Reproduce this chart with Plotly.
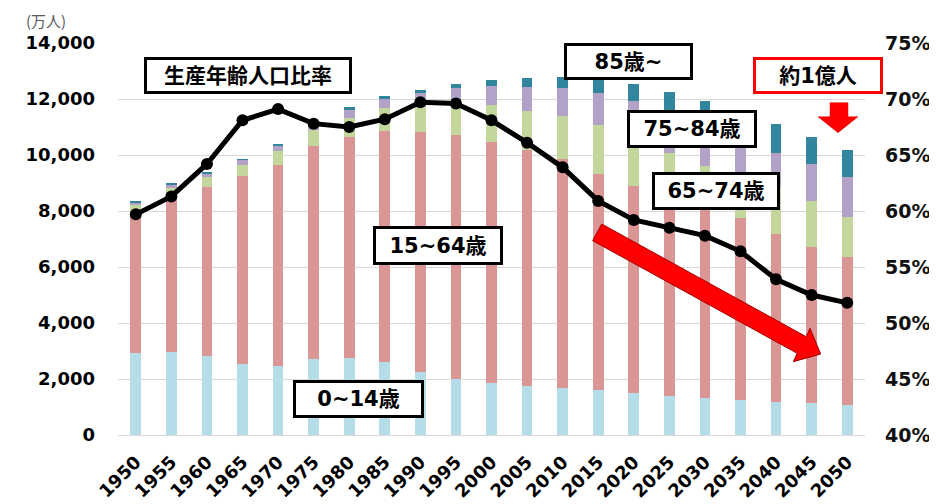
import plotly.graph_objects as go

# ---------------- data ----------------
years = ["1950", "1955", "1960", "1965", "1970", "1975", "1980", "1985", "1990", "1995",
         "2000", "2005", "2010", "2015", "2020", "2025", "2030", "2035", "2040", "2045", "2050"]
age_0_14 = [2943, 2980, 2807, 2553, 2482, 2722, 2751, 2603, 2249, 2001,
            1847, 1752, 1680, 1595, 1503, 1407, 1321, 1246, 1194, 1138, 1077]
age_15_64 = [4966, 5517, 6047, 6693, 7157, 7584, 7883, 8251, 8590, 8716,
             8622, 8409, 8173, 7728, 7406, 7170, 6875, 6494, 5978, 5584, 5275]
age_65_74 = [309, 340, 345, 400, 505, 585, 705, 810, 892, 1109,
             1301, 1420, 1530, 1755, 1747, 1497, 1428, 1522, 1681, 1643, 1424]
age_75_84 = [97, 125, 150, 180, 200, 255, 285, 345, 487, 564,
             679, 850, 1020, 1136, 1270, 1455, 1480, 1425, 1228, 1301, 1429]
age_85_plus = [10, 14, 22, 28, 38, 50, 75, 95, 120, 153,
               224, 330, 400, 497, 620, 725, 808, 835, 1011, 976, 988]
working_ratio = [59.7, 61.3, 64.2, 68.1, 69.1, 67.8, 67.5, 68.2, 69.7, 69.6,
                 68.1, 66.1, 63.9, 60.9, 59.2, 58.5, 57.8, 56.4, 53.9, 52.5, 51.8]

series_names = ["0~14歳", "15~64歳", "65~74歳", "75~84歳", "85歳~"]
series_values = [age_0_14, age_15_64, age_65_74, age_75_84, age_85_plus]
series_colors = ["#B5DDE7", "#DA9694", "#C3D69B", "#B3A2C7", "#31859C"]

left_ticks = [0, 2000, 4000, 6000, 8000, 10000, 12000, 14000]
left_labels = ["0", "2,000", "4,000", "6,000", "8,000", "10,000", "12,000", "14,000"]
right_ticks = [40, 45, 50, 55, 60, 65, 70, 75]
right_labels = ["40%", "45%", "50%", "55%", "60%", "65%", "70%", "75%"]

# ---------------- layout geometry (screen pixels) ----------------
OFF = 8                      # page body margin
SCREEN_W, SCREEN_H = 937, 504
W, H = SCREEN_W - OFF, SCREEN_H - OFF
PLOT_X0, PLOT_X1, PLOT_Y0, PLOT_Y1 = 118, 865, 43, 435   # plot area on screen
L, R = PLOT_X0 - OFF, SCREEN_W - PLOT_X1
T, B = PLOT_Y0 - OFF, SCREEN_H - PLOT_Y1
PW, PH = PLOT_X1 - PLOT_X0, PLOT_Y1 - PLOT_Y0


def px(x):
    return (x - PLOT_X0) / PW


def py(y):
    return (PLOT_Y1 - y) / PH


FONT = "DejaVu Sans, Noto Sans CJK JP, sans-serif"

fig = go.Figure()
for name, vals, col in zip(series_names, series_values, series_colors):
    fig.add_trace(go.Bar(x=years, y=vals, name=name, marker_color=col,
                         marker_line_width=0, width=0.3))

fig.add_trace(go.Scatter(x=years, y=working_ratio, yaxis="y2", mode="lines+markers",
                         line=dict(color="black", width=5),
                         marker=dict(color="black", size=12), name="生産年齢人口比率"))

fig.update_layout(
    width=W, height=H, barmode="stack", showlegend=False,
    margin=dict(l=L, r=R, t=T, b=B, pad=0, autoexpand=False),
    paper_bgcolor="white", plot_bgcolor="white",
    xaxis=dict(type="category", range=[-0.5, len(years) - 0.5], tickangle=-45,
               showgrid=False, showline=False, ticks="", automargin=False,
               ticklabelstandoff=12,
               tickfont=dict(family=FONT, size=18, color="black", weight="bold")),
    yaxis=dict(range=[0, 14000], tickvals=left_ticks, ticktext=left_labels, showgrid=True,
               gridcolor="#D9D9D9", gridwidth=1, zeroline=True, zerolinecolor="#D9D9D9",
               zerolinewidth=1, showline=False, ticks="", ticklabelstandoff=22,
               automargin=False,
               tickfont=dict(family=FONT, size=18, color="black", weight="bold")),
    yaxis2=dict(range=[40, 75], tickvals=right_ticks, ticktext=right_labels, overlaying="y",
                side="right", showgrid=False, zeroline=False, showline=False, ticks="",
                ticklabelstandoff=19, automargin=False,
                tickfont=dict(family=FONT, size=19, color="#111111", weight="bold")),
)

# label boxes: (text, center x, center y, outer w, outer h, border colour) in screen px
boxes = [
    ("生産年齢人口比率", 248, 75, 208, 37, "black"),
    ("15~64歳", 438, 245.5, 130, 39, "black"),
    ("0~14歳", 358.5, 399, 131, 38, "black"),
    ("85歳~", 628.5, 61.3, 129, 37, "black"),
    ("約1億人", 818, 75, 130, 37, "#FF0000"),
    ("75~84歳", 692, 129, 130, 38, "black"),
    ("65~74歳", 716, 191, 128, 38, "black"),
]
BW, BP = 3, 2
for text, cx, cy, ow, oh, bc in boxes:
    fig.add_annotation(text=text, xref="paper", yref="paper", x=px(cx), y=py(cy),
                       xanchor="center", yanchor="middle", showarrow=False,
                       width=ow - 2 * (BW + BP), height=oh - 2 * (BW + BP),
                       bgcolor="white", bordercolor=bc, borderwidth=BW, borderpad=BP,
                       font=dict(family=FONT, size=21, color="black", weight="bold"))

fig.add_annotation(text="(万人)", xref="paper", yref="paper", x=px(46), y=py(20),
                   xanchor="center", yanchor="middle", showarrow=False,
                   font=dict(family="Noto Sans CJK JP, sans-serif", size=15, color="#595959"))


def path(points):
    return "M " + " L ".join(f"{px(x):.5f},{py(y):.5f}" for x, y in points) + " Z"


# big diagonal arrow
big_arrow = [(601.7, 224), (806.2, 336.7), (810, 328.3), (820.7, 354),
             (793.3, 361.7), (797.2, 353.3), (592.7, 240.7)]
fig.add_shape(type="path", xref="paper", yref="paper", path=path(big_arrow),
              fillcolor="#FF0000", line=dict(color="#A00000", width=1), layer="above")

# small down arrow
down_arrow = [(830, 102.7), (848, 102.7), (848, 116.7), (858, 116.7), (838, 132.7),
              (818, 116.7), (830, 116.7)]
fig.add_shape(type="path", xref="paper", yref="paper", path=path(down_arrow),
              fillcolor="#FF0000", line=dict(color="#E00000", width=0.5), layer="above")

fig.write_html("out.html")
